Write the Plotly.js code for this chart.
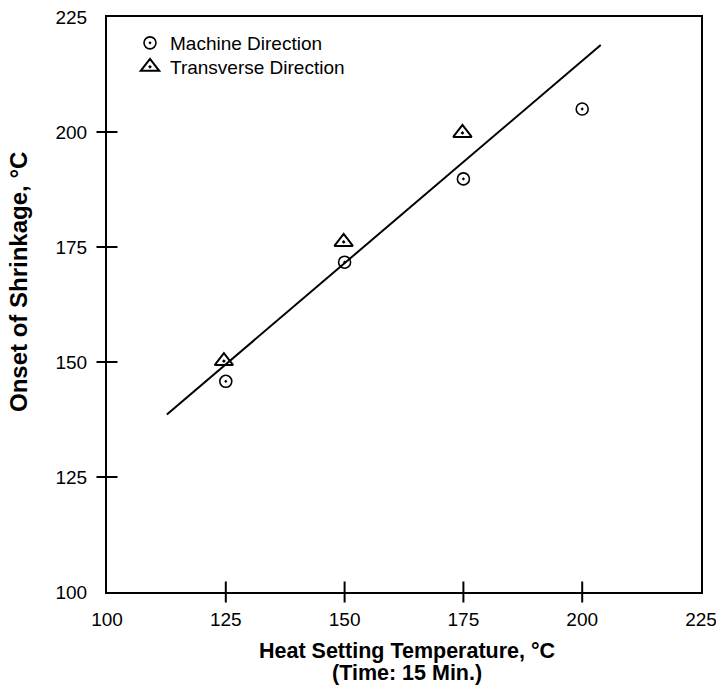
<!DOCTYPE html>
<html>
<head>
<meta charset="utf-8">
<script src="https://cdn.plot.ly/plotly-3.0.1.min.js"></script>
<style>html,body{margin:0;padding:0;background:#fff;}#chart{width:716px;height:687px;}</style>
</head>
<body>
<div id="chart"></div>
<script>
// Data
const machineX = [125, 150, 175, 200];
const machineY = [145.8, 171.7, 189.8, 205.0];
const transverseX = [124.6, 149.8, 174.8];
const transverseY = [150.2, 176.1, 199.8];
const fitX = [112.6, 203.9];
const fitY = [138.6, 218.9];
const tickLabelVals = [100, 125, 150, 175, 200, 225];
const tickMarkVals = [125, 150, 175, 200];
const axisRange = [100, 225];
const xTitleLine1 = 'Heat Setting Temperature, °C';
const xTitleLine2 = '(Time: 15 Min.)';
const yTitle = 'Onset of Shrinkage, °C';

const FONT = '"Liberation Sans", Arial, Helvetica, sans-serif';

const traces = [
  {x: fitX, y: fitY, mode: 'lines', line: {color: '#000', width: 2}, showlegend: false, hoverinfo: 'skip'},
  {x: machineX, y: machineY, mode: 'markers', name: 'Machine Direction', legend: 'legend',
   marker: {symbol: 'circle-open-dot', size: 12, color: '#000', line: {color: '#000', width: 1.6}}},
  {x: transverseX, y: transverseY, mode: 'markers', name: 'Transverse Direction', legend: 'legend2',
   marker: {symbol: 'triangle-up-open-dot', size: 16, color: '#000', line: {color: '#000', width: 2}}},
  // tick marks crossing the frame (drawn as line markers sitting on the axes)
  {x: tickMarkVals, y: tickMarkVals.map(() => axisRange[0]), mode: 'markers', cliponaxis: false,
   showlegend: false, hoverinfo: 'skip',
   marker: {symbol: 'line-ns', size: 15, color: '#000', line: {color: '#000', width: 2}}},
  {x: tickMarkVals.map(() => axisRange[0]), y: tickMarkVals, mode: 'markers', cliponaxis: false,
   showlegend: false, hoverinfo: 'skip',
   marker: {symbol: 'line-ew', size: 15, color: '#000', line: {color: '#000', width: 2}}}
];

function axis(standoff) {
  return {
    range: axisRange, showgrid: false, zeroline: false, fixedrange: true,
    tickvals: tickLabelVals, ticktext: tickLabelVals.map(String),
    ticks: '', ticklabelstandoff: standoff, ticklabeloverflow: 'allow',
    showline: true, linecolor: '#000', linewidth: 2, mirror: true,
    tickfont: {size: 19}
  };
}

const legendBase = {xanchor: 'left', yanchor: 'middle', bgcolor: 'rgba(0,0,0,0)',
  font: {family: FONT, size: 19, color: '#000'}, itemwidth: 30, borderwidth: 0};

const layout = {
  width: 716, height: 687,
  margin: {l: 107, r: 15, t: 17, b: 95},
  paper_bgcolor: '#fff', plot_bgcolor: '#fff',
  font: {family: FONT, color: '#000', size: 19},
  showlegend: true,
  legend: Object.assign({}, legendBase, {x: 0.0387, y: (592 - 43) / 575}),
  legend2: Object.assign({}, legendBase, {x: 0.0387, y: (592 - 67) / 575}),
  xaxis: axis(9),
  yaxis: axis(14),
  annotations: [
    {text: yTitle, xref: 'paper', yref: 'paper', x: -0.15, y: 0.539, xanchor: 'center', yanchor: 'middle',
     textangle: -90, showarrow: false, font: {family: FONT, size: 24, weight: 'bold', color: '#000'}},
    {text: xTitleLine1, xref: 'paper', yref: 'paper', x: 0.505, y: (592 - 651) / 575, xanchor: 'center', yanchor: 'middle',
     showarrow: false, font: {family: FONT, size: 21.5, weight: 'bold', color: '#000'}},
    {text: xTitleLine2, xref: 'paper', yref: 'paper', x: 0.505, y: (592 - 673) / 575, xanchor: 'center', yanchor: 'middle',
     showarrow: false, font: {family: FONT, size: 21.5, weight: 'bold', color: '#000'}}
  ]
};

Plotly.newPlot('chart', traces, layout, {displayModeBar: false, staticPlot: true});
</script>
</body>
</html>
